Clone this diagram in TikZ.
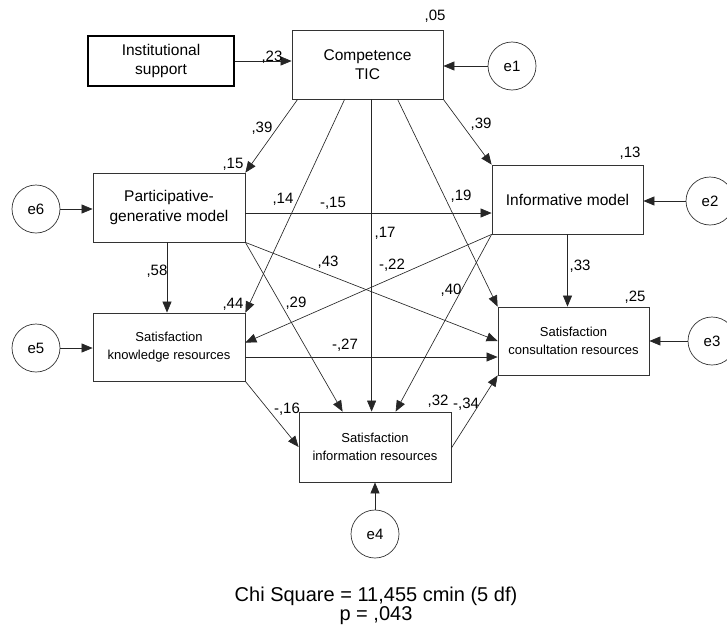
\documentclass[tikz,border=0pt]{standalone}
\usepackage{fontspec}
\setmainfont{Liberation Sans}
\usetikzlibrary{arrows.meta,calc}
\begin{document}
\begin{tikzpicture}[x=1pt,y=1pt,
  box/.style={draw=black!80,line width=0.8pt,rectangle,inner sep=0pt,align=center,fill=white},
  bigtxt/.style={font=\fontsize{15.5}{19.5}\selectfont},
  smalltxt/.style={font=\fontsize{13}{18.5}\selectfont},
  err/.style={draw=black!80,line width=0.7pt,circle,minimum size=48pt,inner sep=0pt,font=\fontsize{15}{17}\selectfont},
  arr/.style={draw=black!85,line width=0.65pt,-{Triangle[length=11pt,width=9pt]}},
  coef/.style={font=\fontsize{15}{17}\selectfont,inner sep=0pt}]
\useasboundingbox (0,0) rectangle (727,-629);
% boxes
\node[box,line width=1.4pt,draw=black,minimum width=146pt,minimum height=50pt,bigtxt] (inst) at (161,-61) {Institutional\\support};
\node[box,minimum width=151pt,minimum height=69pt,bigtxt] (comp) at (367.5,-64.5) {Competence\\TIC};
\node[box,minimum width=152pt,minimum height=69pt,bigtxt] (part) at (169,-207.5) {Participative-\\generative model};
\node[box,minimum width=151pt,minimum height=69pt,bigtxt] (info) at (567.5,-199.5) {Informative model};
\node[box,minimum width=152pt,minimum height=68pt,smalltxt] (know) at (169,-347) {Satisfaction\\knowledge resources};
\node[box,minimum width=151pt,minimum height=68pt,smalltxt] (cons) at (573.5,-341) {Satisfaction\\consultation resources};
\node[box,minimum width=152pt,minimum height=70pt,smalltxt] (sinf) at (375,-447) {Satisfaction\\information resources};
% error terms
\node[err] (e1) at (512,-66) {e1};
\node[err] (e2) at (710,-201) {e2};
\node[err] (e3) at (712,-341) {e3};
\node[err] (e6) at (36,-209) {e6};
\node[err] (e5) at (36,-348) {e5};
\node[err] (e4) at (375,-534) {e4};
% connection points
\coordinate (c39) at ([xshift=6pt]comp.south west);
\coordinate (c14) at ([xshift=53pt]comp.south west);
\coordinate (c17) at ([xshift=80pt]comp.south west);
\coordinate (c19) at ([xshift=106pt]comp.south west);
\coordinate (p15) at ([yshift=-5.5pt]part.east);
\coordinate (p58) at ([xshift=-2pt]part.south);
\coordinate (k27) at ([yshift=-10pt]know.east);
\coordinate (s29) at ([xshift=44pt]sinf.north west);
\coordinate (s40) at ([xshift=97pt]sinf.north west);
\coordinate (k22) at ([yshift=-30pt]know.north east);
\coordinate (sout) at ([yshift=-1pt]sinf.east);
% arrows
\draw[arr] (inst.east) -- (comp.west |- inst.east);
\draw[arr] (e1.west) -- (comp.east |- e1.west);
\draw[arr] (e2.west) -- (info.east |- e2.west);
\draw[arr] (e3.west) -- (cons.east |- e3.west);
\draw[arr] (e6.east) -- (part.west |- e6.east);
\draw[arr] (e5.east) -- (know.west |- e5.east);
\draw[arr] (e4.north) -- (sinf.south);
\draw[arr] (c39) -- (part.north east);
\draw[arr] (comp.south east) -- (info.north west);
\draw[arr] (c14) -- (know.north east);
\draw[arr] (c17) -- (c17 |- sinf.north);
\draw[arr] (c19) -- (cons.north west);
\draw[arr] (p15) -- (info.west |- p15);
\draw[arr] (part.south east) -- (cons.west);
\draw[arr] (part.south east) -- (s29);
\draw[arr] (p58) -- (p58 |- know.north);
\draw[arr] (info.south west) -- (k22);
\draw[arr] (info.south west) -- (s40);
\draw[arr] (info.south) -- (info.south |- cons.north);
\draw[arr] (k27) -- (cons.west |- k27);
\draw[arr] (know.south east) -- (sinf.west);
\draw[arr] (sout) -- (cons.south west);
% coefficients
\node[coef] (l05) at (435,-16) {,05};
\node[coef] (l23) at (272,-57) {,23};
\node[coef] (l39a) at (262,-128) {,39};
\node[coef] (l39b) at (481,-124) {,39};
\node[coef] (l15) at (233,-164) {,15};
\node[coef] (l13) at (630,-153) {,13};
\node[coef] (l14) at (283,-199) {,14};
\node[coef] (lm15) at (333,-203) {-,15};
\node[coef] (l19) at (461,-196) {,19};
\node[coef] (l17) at (385,-233) {,17};
\node[coef] (l43) at (328,-262) {,43};
\node[coef] (lm22) at (392,-265) {-,22};
\node[coef] (l58) at (157,-271) {,58};
\node[coef] (l33) at (580,-266) {,33};
\node[coef] (l40) at (451,-290) {,40};
\node[coef] (l25) at (635,-297) {,25};
\node[coef] (l44) at (233,-304) {,44};
\node[coef] (l29) at (296,-303) {,29};
\node[coef] (lm27) at (345,-345) {-,27};
\node[coef] (lm16) at (287,-409) {-,16};
\node[coef] (l32) at (438,-401) {,32};
\node[coef] (lm34) at (466,-404) {-,34};
% fit statistics
\node[font=\fontsize{20}{18}\selectfont,align=center,inner sep=0pt] (chi) at (376,-606) {Chi Square = 11,455 cmin (5 df)\\p = ,043};
\end{tikzpicture}
\end{document}
